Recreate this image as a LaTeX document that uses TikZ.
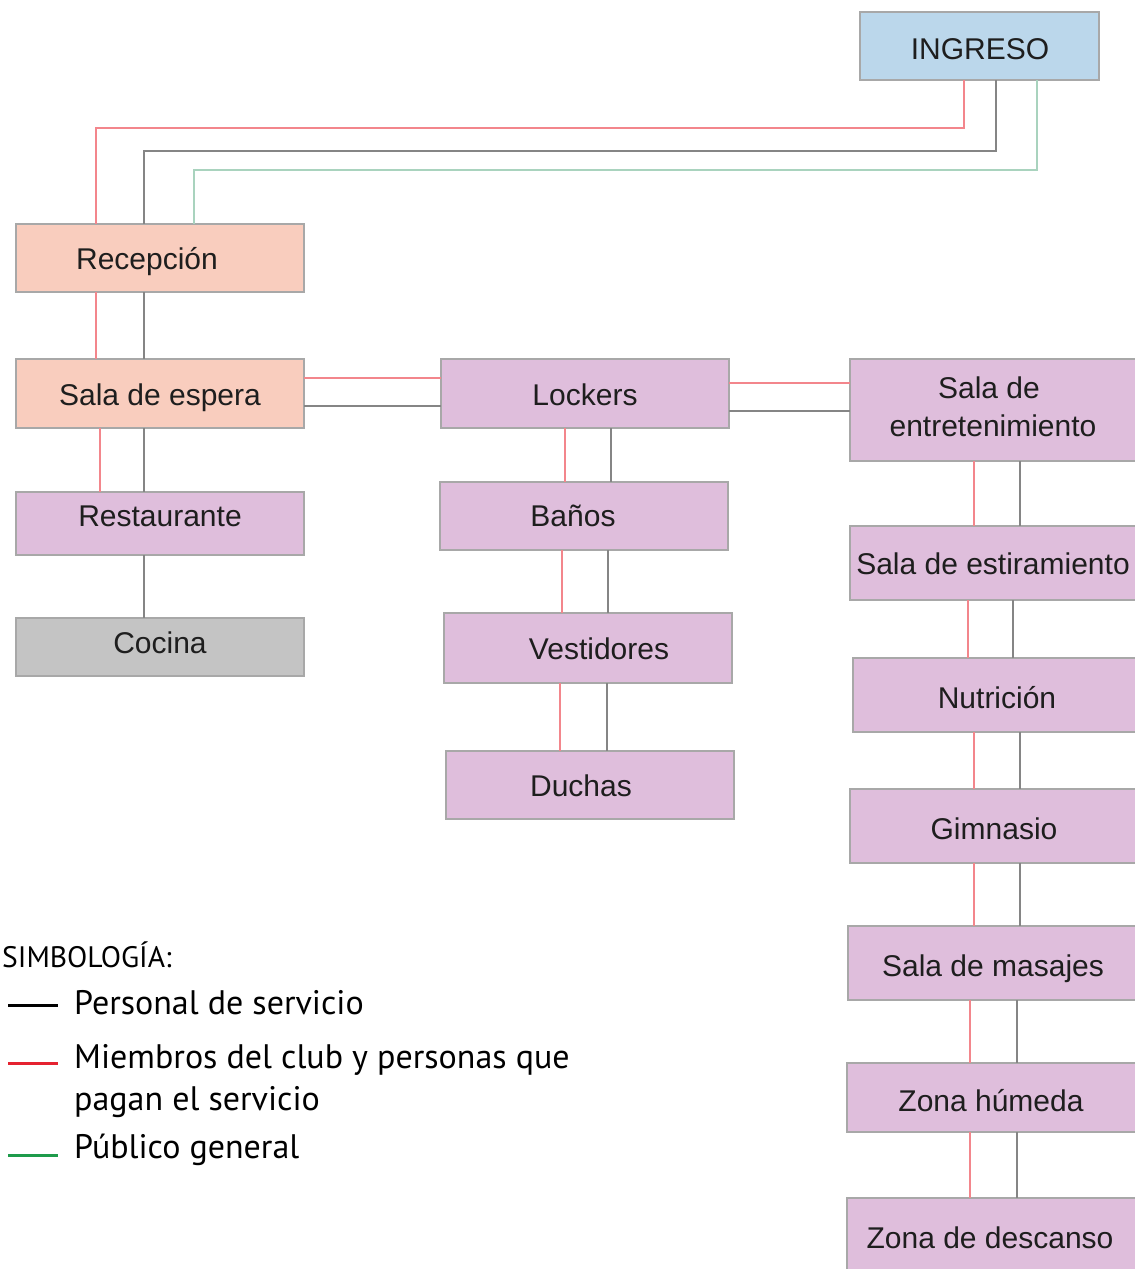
\documentclass[tikz,border=0pt]{standalone}
\usepackage{fontspec}
\setmainfont{Liberation Sans}
\newfontfamily\legfont{PT Sans}
\usetikzlibrary{fit}
\definecolor{ingc}{HTML}{BBD7EB}
\definecolor{recc}{HTML}{F9CDBE}
\definecolor{purc}{HTML}{DFBEDC}
\definecolor{cocc}{HTML}{C4C4C4}
\definecolor{bord}{HTML}{A8A8A8}
\definecolor{lred}{HTML}{F3868C}
\definecolor{lgray}{HTML}{858585}
\definecolor{lgreen}{HTML}{A9D3BE}
\definecolor{txt}{HTML}{1E1E1E}
\definecolor{legred}{HTML}{E52230}
\definecolor{leggreen}{HTML}{1E9B4B}
\newcommand\vlink[4]{\path (#4,0) coordinate (vx);\draw[#1] (#2.south -| vx) -- (#3.north -| vx);}
\newcommand\hlink[4]{\path (0,#4) coordinate (hy);\draw[#1] (#2.east |- hy) -- (#3.west |- hy);}
\begin{document}
\begin{tikzpicture}[x=1pt,y=-1pt,
  box/.style={draw=bord, line width=2.5pt, inner sep=0pt, outer sep=0pt},
  lbl/.style={font=\fontsize{30}{34}\selectfont, text=txt, inner sep=0pt, anchor=base},
  cr/.style={draw=lred, line width=2pt},
  cg/.style={draw=lgray, line width=2pt},
  cgr/.style={draw=lgreen, line width=2pt},
  leg/.style={font=\legfont\fontsize{34}{42}\selectfont, text=black, inner sep=0pt, anchor=base west, align=left},
  legline/.style={line width=3pt},
]
\fill[white] (0,0) rectangle (1135,1269);
\useasboundingbox (0,0) rectangle (1135,1269);

% boxes
\node[box, fill=ingc, fit={(860,12) (1099,80)}] (ing) {};
\node[box, fill=recc, fit={(16,224) (304,292)}] (rec) {};
\node[box, fill=recc, fit={(16,359) (304,428)}] (esp) {};
\node[box, fill=purc, fit={(16,492) (304,555)}] (res) {};
\node[box, fill=cocc, fit={(16,618) (304,676)}] (coc) {};
\node[box, fill=purc, fit={(441,359) (729,428)}] (loc) {};
\node[box, fill=purc, fit={(440,482) (728,550)}] (ban) {};
\node[box, fill=purc, fit={(444,613) (732,683)}] (ves) {};
\node[box, fill=purc, fit={(446,751) (734,819)}] (duc) {};
\node[box, fill=purc, fit={(850,359) (1145,461)}] (ent) {};
\node[box, fill=purc, fit={(850,526) (1145,600)}] (est) {};
\node[box, fill=purc, fit={(853,658) (1145,732)}] (nut) {};
\node[box, fill=purc, fit={(850,789) (1145,863)}] (gim) {};
\node[box, fill=purc, fit={(848,926) (1145,1000)}] (mas) {};
\node[box, fill=purc, fit={(847,1063) (1145,1132)}] (hum) {};
\node[box, fill=purc, fit={(847,1198) (1145,1280)}] (des) {};

% labels
\node[lbl] (ingT) at (980,59) {INGRESO};
\node[lbl] (recT) at (147,269) {Recepción};
\node[lbl] (espT) at (160,405) {Sala de espera};
\node[lbl] (resT) at (160,526) {Restaurante};
\node[lbl] (cocT) at (160,653) {Cocina};
\node[lbl] (locT) at (585,405) {Lockers};
\node[lbl] (banT) at (573,526) {Baños};
\node[lbl] (vesT) at (599,659) {Vestidores};
\node[lbl] (ducT) at (581,796) {Duchas};
\node[lbl] (entT1) at (989,398) {Sala de};
\node[lbl] (entT2) at (993,436) {entretenimiento};
\node[lbl] (estT) at (993,574) {Sala de estiramiento};
\node[lbl] (nutT) at (997,708) {Nutrición};
\node[lbl] (gimT) at (994,839) {Gimnasio};
\node[lbl] (masT) at (993,976) {Sala de masajes};
\node[lbl] (humT) at (991,1111) {Zona húmeda};
\node[lbl] (desT) at (990,1248) {Zona de descanso};

% entrance connectors
\coordinate (bR) at (96,128);
\coordinate (bG) at (144,151);
\coordinate (bV) at (194,170);
\coordinate (xR) at (964,0);
\coordinate (xG) at (996,0);
\coordinate (xV) at (1037,0);
\draw[cr] (ing.south -| xR) |- (bR) -- (bR |- rec.north);
\draw[cg] (ing.south -| xG) |- (bG) -- (bG |- rec.north);
\draw[cgr] (ing.south -| xV) |- (bV) -- (bV |- rec.north);

% vertical links
\vlink{cr}{rec}{esp}{96}
\vlink{cg}{rec}{esp}{144}
\vlink{cr}{esp}{res}{100}
\vlink{cg}{esp}{res}{144}
\vlink{cg}{res}{coc}{144}
\vlink{cr}{loc}{ban}{565}
\vlink{cg}{loc}{ban}{611}
\vlink{cr}{ban}{ves}{562}
\vlink{cg}{ban}{ves}{608}
\vlink{cr}{ves}{duc}{560}
\vlink{cg}{ves}{duc}{607}
\vlink{cr}{ent}{est}{974}
\vlink{cg}{ent}{est}{1020}
\vlink{cr}{est}{nut}{968}
\vlink{cg}{est}{nut}{1013}
\vlink{cr}{nut}{gim}{974}
\vlink{cg}{nut}{gim}{1020}
\vlink{cr}{gim}{mas}{974}
\vlink{cg}{gim}{mas}{1020}
\vlink{cr}{mas}{hum}{970}
\vlink{cg}{mas}{hum}{1017}
\vlink{cr}{hum}{des}{970}
\vlink{cg}{hum}{des}{1017}

% horizontal links
\hlink{cr}{esp}{loc}{378}
\hlink{cg}{esp}{loc}{406}
\hlink{cr}{loc}{ent}{383}
\hlink{cg}{loc}{ent}{411}

% legend
\node[leg, font=\legfont\fontsize{29.6}{32}\selectfont] (simb) at (2,967) {SIMBOLOGÍA:};
\coordinate (l1a) at (8,1005); \coordinate (l1b) at (58,1005);
\coordinate (l2a) at (8,1063); \coordinate (l2b) at (58,1063);
\coordinate (l3a) at (8,1155); \coordinate (l3b) at (58,1155);
\draw[legline, black] (l1a) -- (l1b);
\draw[legline, legred] (l2a) -- (l2b);
\draw[legline, leggreen] (l3a) -- (l3b);
\node[leg] (leg1) at (74,1014) {Personal de servicio};
\node[leg] (leg2) at (74,1110) {Miembros del club y personas que\\pagan el servicio};
\node[leg] (leg3) at (74,1158) {Público general};
\end{tikzpicture}
\end{document}
